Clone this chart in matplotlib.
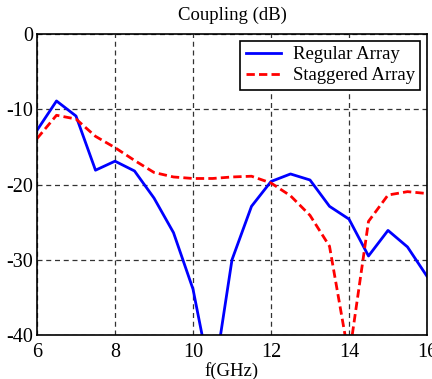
import matplotlib
matplotlib.use("Agg")
import matplotlib.pyplot as plt

freq = [6, 6.5, 7, 7.5, 8, 8.5, 9, 9.5, 10, 10.5, 11, 11.5, 12, 12.5, 13, 13.5, 14, 14.5, 15, 15.5, 16]
regular = [-12.8, -8.9, -10.9, -18.1, -16.9, -18.2, -21.8, -26.4, -33.9, -47.0, -30.0, -22.9, -19.6, -18.6, -19.4, -22.9, -24.6, -29.5, -26.1, -28.3, -32.2]
staggered = [-13.9, -10.8, -11.3, -13.6, -15.1, -16.8, -18.4, -19.0, -19.2, -19.2, -19.0, -18.9, -19.8, -21.5, -24.1, -28.2, -43.0, -24.9, -21.4, -20.95, -21.2]
xticks = [6, 8, 10, 12, 14, 16]
yticks = [0, -10, -20, -30, -40]

plt.rcParams['font.family'] = ['Liberation Serif', 'DejaVu Serif']
plt.rcParams['font.size'] = 13.5

fig = plt.figure(figsize=(4.32, 3.79), dpi=100)
ax = fig.add_axes([37/432, 1-335/379, 390/432, 301/379])
ax.plot(freq, regular, color='#0000ff', lw=2, label='Regular Array')
ax.plot(freq, staggered, color='#ff0000', lw=2, ls=(0, (3, 1.5)), label='Staggered Array')
ax.set_xlim(6, 16)
ax.set_ylim(-40, 0)
ax.set_xticks(xticks)
ax.set_yticks(yticks)
ax.set_xticklabels([str(t) for t in xticks])
ax.set_yticklabels([str(t).replace('\u2212', '-') for t in yticks])
ax.tick_params(length=0, labelsize=14.5)
ax.tick_params(axis='x', pad=6)
ax.tick_params(axis='y', pad=3)
ax.grid(True, color='#333333', ls=(0, (4, 3)), lw=0.9)
for s in ax.spines.values():
    s.set_linewidth(1.2)
    s.set_color('black')
ax.set_title('Coupling (dB)', fontsize=13.5, pad=10)
ax.set_xlabel('f(GHz)', fontsize=13.5, labelpad=0)
leg = ax.legend(loc='upper right', fontsize=13.5, frameon=True, fancybox=False,
                edgecolor='black', framealpha=1, handlelength=1.9, borderpad=0.3,
                labelspacing=0.2, handletextpad=0.6, borderaxespad=0.35)
leg.get_frame().set_linewidth(1.2)
fig.savefig('out.png', dpi=100)
